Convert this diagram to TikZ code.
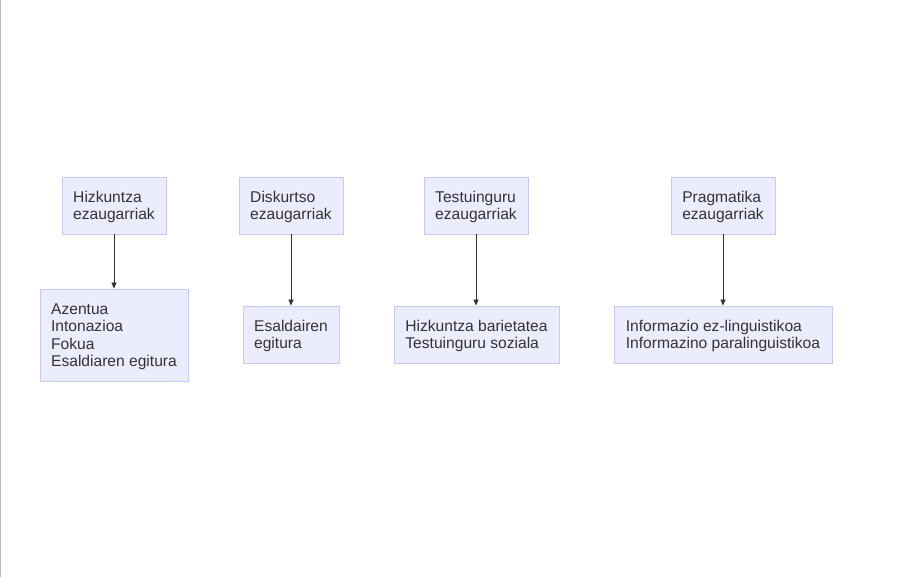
\documentclass[tikz,border=0pt]{standalone}
\usepackage{fontspec}
\setmainfont{Liberation Sans}
\usetikzlibrary{arrows.meta}
\definecolor{boxfill}{HTML}{ECECFF}
\definecolor{boxline}{HTML}{C9C9F5}
\definecolor{ink}{HTML}{333333}
\begin{document}
\begin{tikzpicture}[x=1pt,y=-1pt,
    box/.style={draw=boxline,fill=boxfill,line width=0.8pt,text=ink,align=left,
      font=\fontsize{15.6}{17.5}\selectfont,inner sep=0pt,text depth=-0.8pt},
    head/.style={box,minimum width=104pt,minimum height=57pt},
    arr/.style={draw=ink,line width=0.8pt,-{Triangle[length=6pt,width=5pt]}}]
      \useasboundingbox (0,0) rectangle (919,577);
      \draw[gray!55,line width=1pt] (0.5,0) -- (0.5,577);
      \node[head] (hiz) at (114,205.5) {Hizkuntza\\ezaugarriak};
      \node[head] (dis) at (291,205.5) {Diskurtso\\ezaugarriak};
      \node[head] (tes) at (476,205.5) {Testuinguru\\ezaugarriak};
      \node[head] (pra) at (723,205.5) {Pragmatika\\ezaugarriak};
      \node[box,minimum width=148pt,minimum height=92pt] (hizl) at (114,335) {Azentua\\Intonazioa\\Fokua\\Esaldiaren egitura};
      \node[box,minimum width=96pt,minimum height=57pt] (disl) at (291,334.5) {Esaldairen\\egitura};
      \node[box,minimum width=165pt,minimum height=57pt] (tesl) at (476.5,334.5) {Hizkuntza barietatea\\Testuinguru soziala};
      \node[box,minimum width=218pt,minimum height=57pt] (pral) at (723,334.5) {Informazio ez-linguistikoa\\Informazino paralinguistikoa};
      \draw[arr] (hiz) -- (hiz|-hizl.north);
      \draw[arr] (dis) -- (dis|-disl.north);
      \draw[arr] (tes) -- (tes|-tesl.north);
      \draw[arr] (pra) -- (pra|-pral.north);
     \end{tikzpicture}
\end{document}
